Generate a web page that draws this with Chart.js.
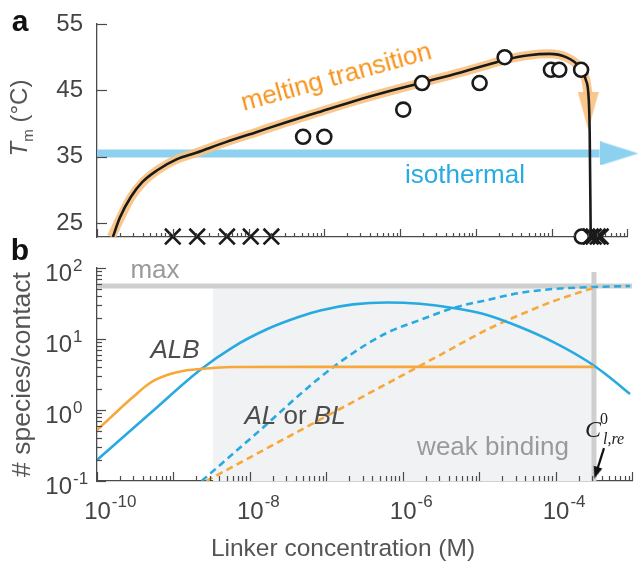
<!DOCTYPE html>
<html><head><meta charset="utf-8">
<script src="https://cdn.jsdelivr.net/npm/chart.js@4.4.0/dist/chart.umd.min.js"></script>
<style>
html,body{margin:0;padding:0;background:#fff;}
#wrap{position:relative;width:641px;height:565px;overflow:hidden;font-family:"Liberation Sans",Arial,Helvetica,sans-serif;}
canvas{position:absolute;left:0;}
.lbl{position:absolute;white-space:nowrap;line-height:1;transform:translate(-50%,-50%);}
.abs{position:absolute;white-space:nowrap;line-height:1;}
.tk{position:absolute;white-space:nowrap;line-height:1;font-size:24px;color:#444;}
.sp{position:absolute;left:100%;margin-left:1px;font-size:17px;line-height:1;}
</style></head><body>
<div id="wrap">
<canvas id="ca" width="641" height="255" style="top:0px"></canvas>
<canvas id="cb" width="641" height="310" style="top:255px"></canvas>

<div class="lbl" style="left:20px;top:21px;font-weight:bold;font-size:30px;color:#111">a</div>
<div class="lbl" style="left:20px;top:250px;font-weight:bold;font-size:30px;color:#111">b</div>
<div class="lbl" style="left:21px;top:118px;font-size:24px;color:#555;transform:translate(-50%,-50%) rotate(-90deg)"><i>T</i><sub style="font-size:15px">m</sub> (°C)</div>
<div class="lbl" style="left:336px;top:76px;font-size:26px;color:#F7941D;transform:translate(-50%,-50%) rotate(-15.5deg)">melting transition</div>
<div class="lbl" style="left:465px;top:174px;font-size:26px;color:#29ABE2">isothermal</div>
<div class="lbl" style="left:155px;top:269px;font-size:26px;color:#9a9a9a">max</div>
<div class="lbl" style="left:175px;top:349px;font-size:26px;color:#4d4d4d;font-style:italic">ALB</div>
<div class="lbl" style="left:295px;top:415px;font-size:26px;color:#4d4d4d"><i>AL</i> or <i>BL</i></div>
<div class="lbl" style="left:493px;top:446px;font-size:26px;color:#9a9a9a">weak binding</div>
<div class="lbl" style="left:343px;top:548px;font-size:24.5px;color:#555">Linker concentration (M)</div>
<div class="abs" style="left:585px;top:417px;font-family:'Liberation Serif',serif;font-style:italic;font-size:24px;color:#222">C</div>
<div class="abs" style="left:600px;top:411px;font-family:'Liberation Serif',serif;font-size:16px;color:#222">0</div>
<div class="abs" style="left:603px;top:431px;font-family:'Liberation Serif',serif;font-style:italic;font-size:16px;color:#222">l,re</div>
</div>
<script>
// ---------- Panel a data ----------
const meltX = [1.62e-10,2.00e-10,2.82e-10,3.98e-10,6.31e-10,1.12e-9,2.04e-9,5.01e-9,1.26e-8,3.16e-8,8.32e-8,2.51e-7,7.94e-7,2.00e-6,6.31e-6,1.58e-5,2.40e-5,5.01e-5,9.33e-5,1.55e-4,2.29e-4,2.82e-4,3.09e-4,3.18e-4,3.28e-4];
const meltT = [22.9,25.8,29.0,31.2,33.0,34.6,35.6,37.2,38.7,40.2,41.7,43.4,45.0,46.2,47.7,49.0,49.6,50.3,50.5,50.0,48.6,46.6,43.6,38.6,22.9];
const bandX = [1.55e-10,2.00e-10,2.82e-10,3.98e-10,6.31e-10,1.12e-9,2.04e-9,5.01e-9,1.26e-8,3.16e-8,8.32e-8,2.51e-7,7.94e-7,2.00e-6,6.31e-6,1.58e-5,2.40e-5,5.01e-5,9.33e-5,1.55e-4,2.29e-4,2.82e-4,3.04e-4];
const bandT = [22.9,25.6,28.9,31.1,33.0,34.6,35.6,37.2,38.7,40.2,41.7,43.4,45.0,46.2,47.7,49.0,49.6,50.3,50.5,50.0,48.6,46.6,44.3];
const meltHeadX = [3.04e-4], meltHeadT = [41.9];
const isoX = [1e-10, 4.3e-4], isoT = [35.5, 35.5];
const isoHeadX = [7.85e-4], isoHeadT = [35.5];
const circX = [5.25e-8,1.0e-7,1.1e-6,1.95e-6,1.12e-5,2.4e-5,9.8e-5,1.26e-4,2.45e-4,2.5e-4];
const circT = [38,38,42.1,46.1,46.1,50,48.1,48.1,48.1,22.97];
const crossX = [1e-9,2.1e-9,5.2e-9,1.07e-8,2e-8,3.28e-4,3.59e-4,4.06e-4,4.44e-4];
const crossT = [22.97,22.97,22.97,22.97,22.97,22.97,22.97,22.97,22.97];
const yTicksA = [25,35,45,55];

// ---------- Panel b data ----------
const albOrX = [1e-10,1.83e-10,2.96e-10,4.93e-10,8.24e-10,1.33e-9,2.23e-9,3.30e-9,6.03e-9,8.32e-8,3.16e-6,3.18e-4];
const albOrY = [0.52,0.955,1.52,2.40,3.11,3.54,3.78,3.91,4.03,4.05,4.05,4.05];
const albBlX = [1e-10,4.93e-10,2.23e-9,6.03e-9,1.67e-8,4.53e-8,8.32e-8,2.24e-7,6.22e-7,1.68e-6,4.55e-6,1.27e-5,3.42e-5,9.25e-5,2.58e-4,4.71e-4,9.42e-4];
const albBlY = [0.198,0.891,3.66,7.71,13.7,20.7,25.2,30.7,32.7,31.3,27.35,21.8,14.75,9.12,4.9,3.09,1.68];
const alBlX = [2.34e-9,1.36e-8,7.55e-8,2.24e-7,6.22e-7,1.68e-6,4.55e-6,1.27e-5,3.42e-5,9.25e-5,3.09e-4,9.42e-4];
const alBlY = [0.1,0.52,2.65,6.35,12.2,18.5,27.3,35.4,44.5,50.6,54,55.7];
const blOrX = [2.69e-9,1.58e-8,1.0e-7,6.31e-7,3.16e-6,1.26e-5,3.42e-5,9.25e-5,3.09e-4];
const blOrY = [0.1,0.28,0.815,2.37,6.04,13.5,21.9,33.9,52.2];
const maxX = [1e-10, 1e-3], maxY = [56, 56];
const weakX = [3.3e-9, 3.18e-4], weakY = [56, 56];
const crefX = [3.18e-4, 3.18e-4], crefY = [0.1, 88];
const arrowX = [4.3e-4, 3.4e-4], arrowY = [0.29, 0.13];
const arrowHeadX = [3.4e-4], arrowHeadY = [0.13];

// ---------- tick labels ----------
const xDecades = [-10,-9,-8,-7,-6,-5,-4,-3];
const xLabeled = [-10,-8,-6,-4];
const yDecadesB = [-1,0,1,2];

const xy = (xs, ys) => xs.map((x, i) => ({x, y: ys[i]}));
const isDecade = v => Math.abs(Math.log10(v) - Math.round(Math.log10(v))) < 1e-9;

function logTicks(decs) {
  const out = [];
  for (let i = 0; i < decs.length - 1; i++) {
    for (let m = 1; m <= 9; m++) out.push(Number((m * Math.pow(10, decs[i])).toPrecision(6)));
  }
  out.push(Math.pow(10, decs[decs.length - 1]));
  return out;
}
const xTickVals = logTicks(xDecades);
const yTickValsB = logTicks(yDecadesB);

function tri(w, h, color, dir) {
  const c = document.createElement('canvas');
  c.width = w; c.height = h;
  const g = c.getContext('2d');
  g.fillStyle = color; g.beginPath();
  if (dir === 'right') { g.moveTo(0, 0); g.lineTo(w, h / 2); g.lineTo(0, h); }
  else { g.moveTo(0, 0); g.lineTo(w, 0); g.lineTo(w / 2, h); }
  g.closePath(); g.fill();
  return c;
}

const AX = '#4a4a4a';
const ORANGE = '#F8A83B', BLUE = '#27AAE1';
const BAND_OR = 'rgba(249,193,130,0.92)', BAND_BL = '#8DD1F0';

Chart.defaults.font.family = "'Liberation Sans', Arial, Helvetica, sans-serif";
Chart.defaults.color = '#444';

const inwardTicks = {
  id: 'inwardTicks',
  afterDraw(chart, args, opts) {
    const ctx = chart.ctx, a = chart.chartArea;
    ctx.save();
    ctx.strokeStyle = AX; ctx.lineWidth = 1.2;
    for (const id of Object.keys(opts.scales || {})) {
      const s = chart.scales[id], o = opts.scales[id];
      if (!s) continue;
      for (const t of s.ticks) {
        const len = (o.all || isDecade(t.value)) ? o.major : o.minor;
        const p = Math.round(s.getPixelForValue(t.value)) + 0.5;
        ctx.beginPath();
        if (s.isHorizontal()) { ctx.moveTo(p, a.bottom); ctx.lineTo(p, a.bottom - len); }
        else { ctx.moveTo(a.left, p); ctx.lineTo(a.left + len, p); }
        ctx.stroke();
      }
    }
    ctx.restore();
  }
};

// sizes that pin each plot area to the reference layout
const sizeA = { yW: 97, xH: 18, top: 24, right: 9 };
const sizeB = { yW: 97, xH: 84, top: 13, right: 9 };

function pinArea(chart, target, sz) {
  for (let i = 0; i < 4; i++) {
    const a = chart.chartArea;
    const dl = target.left - a.left, dr = target.right - a.right, dt = target.top - a.top, db = target.bottom - a.bottom;
    if (Math.abs(dl) + Math.abs(dr) + Math.abs(dt) + Math.abs(db) < 0.5) break;
    sz.yW += dl; sz.xH -= db; sz.top += dt; sz.right -= dr;
    chart.options.layout.padding = { left: 0, right: sz.right, top: sz.top, bottom: 0 };
    chart.update('none');
  }
}

// ---------- Chart a ----------
const chartA = new Chart(document.getElementById('ca'), {
  type: 'line',
  data: { datasets: [
    { data: xy(crossX, crossT), showLine: false, pointStyle: 'crossRot', pointRadius: 11,
      pointBorderColor: '#1a1a1a', pointBorderWidth: 2.6, borderColor: '#1a1a1a', clip: false, order: 0 },
    { data: xy(circX, circT), showLine: false, pointStyle: 'circle', pointRadius: 7,
      pointBackgroundColor: '#fff', pointBorderColor: '#1a1a1a', pointBorderWidth: 2.6, clip: false, order: 1 },
    { data: xy(meltX, meltT), borderColor: '#1a1a1a', borderWidth: 2.6, pointRadius: 0,
      cubicInterpolationMode: 'monotone', order: 2 },
    { data: xy(meltHeadX, meltHeadT), showLine: false, pointStyle: tri(21, 38, BAND_OR, 'down'),
      pointRadius: 10, clip: false, order: 3 },
    { data: xy(bandX, bandT), borderColor: BAND_OR, borderWidth: 9, pointRadius: 0,
      cubicInterpolationMode: 'monotone', order: 4 },
    { data: xy(isoHeadX, isoHeadT), showLine: false, pointStyle: tri(38, 24, BAND_BL, 'right'),
      pointRadius: 10, clip: false, order: 5 },
    { data: xy(isoX, isoT), borderColor: BAND_BL, borderWidth: 8, pointRadius: 0, tension: 0, clip: false, order: 6 }
  ]},
  options: {
    responsive: false, animation: false, events: [],
    layout: { padding: { left: 0, right: sizeA.right, top: sizeA.top, bottom: 0 } },
    scales: {
      x: { type: 'logarithmic', min: 1e-10, max: 1e-3,
        afterBuildTicks: s => { s.ticks = xTickVals.map(v => ({ value: v })); },
        afterFit: s => { s.height = sizeA.xH; },
        ticks: { display: false, autoSkip: false },
        grid: { display: false, drawTicks: false },
        border: { display: true, color: AX, width: 1.3 } },
      y: { type: 'linear', min: 22.9, max: 55,
        afterBuildTicks: s => { s.ticks = yTicksA.map(v => ({ value: v })); },
        afterFit: s => { s.width = sizeA.yW; },
        ticks: { font: { size: 24 }, color: '#444', padding: 0, autoSkip: false },
        grid: { display: false, drawTicks: true, tickLength: 14 },
        border: { display: true, color: AX, width: 1.3 } }
    },
    plugins: { legend: { display: false }, tooltip: { enabled: false },
      inwardTicks: { scales: { x: { major: 8, minor: 4 }, y: { major: 10, minor: 10, all: true } } } }
  },
  plugins: [inwardTicks]
});
pinArea(chartA, { left: 97, right: 632, top: 24, bottom: 237 }, sizeA);

// ---------- Chart b ----------
const chartB = new Chart(document.getElementById('cb'), {
  type: 'line',
  data: { datasets: [
    { data: xy(arrowHeadX, arrowHeadY), showLine: false, pointStyle: tri(9, 12, '#111', 'down'),
      pointRadius: 6, pointRotation: 18, clip: false, order: 0 },
    { data: xy(arrowX, arrowY), borderColor: '#111', borderWidth: 2.2, pointRadius: 0, tension: 0, clip: false, order: 1 },
    { data: xy(albOrX, albOrY), borderColor: ORANGE, borderWidth: 2.6, pointRadius: 0, cubicInterpolationMode: 'monotone', order: 2 },
    { data: xy(albBlX, albBlY), borderColor: BLUE, borderWidth: 2.6, pointRadius: 0, cubicInterpolationMode: 'monotone', order: 3 },
    { data: xy(blOrX, blOrY), borderColor: ORANGE, borderWidth: 2.6, borderDash: [7, 4.5], pointRadius: 0, cubicInterpolationMode: 'monotone', order: 4 },
    { data: xy(alBlX, alBlY), borderColor: BLUE, borderWidth: 2.6, borderDash: [7, 4.5], pointRadius: 0, cubicInterpolationMode: 'monotone', order: 5 },
    { data: xy(crefX, crefY), borderColor: '#CFCFCF', borderWidth: 5, pointRadius: 0, tension: 0, order: 6 },
    { data: xy(maxX, maxY), borderColor: '#CFCFCF', borderWidth: 5, pointRadius: 0, tension: 0, order: 7 },
    { data: xy(weakX, weakY), borderWidth: 0, borderColor: 'rgba(0,0,0,0)', backgroundColor: '#F1F2F4',
      fill: 'start', pointRadius: 0, tension: 0, order: 8 }
  ]},
  options: {
    responsive: false, animation: false, events: [],
    layout: { padding: { left: 0, right: sizeB.right, top: sizeB.top, bottom: 0 } },
    scales: {
      x: { type: 'logarithmic', min: 1e-10, max: 1e-3,
        afterBuildTicks: s => { s.ticks = xTickVals.map(v => ({ value: v })); },
        afterFit: s => { s.height = sizeB.xH; },
        ticks: { display: false, autoSkip: false },
        grid: { display: false, drawTicks: false },
        border: { display: true, color: AX, width: 1.3 } },
      y: { type: 'logarithmic', min: 0.1, max: 100,
        afterBuildTicks: s => { s.ticks = yTickValsB.map(v => ({ value: v })); },
        afterFit: s => { s.width = sizeB.yW; },
        ticks: { display: false, autoSkip: false },
        title: { display: true, text: '# species/contact', font: { size: 26.5 }, color: '#555', padding: { top: 7, bottom: 0 } },
        grid: { display: false, drawTicks: false },
        border: { display: true, color: AX, width: 1.3 } }
    },
    plugins: { legend: { display: false }, tooltip: { enabled: false },
      inwardTicks: { scales: { x: { major: 9, minor: 5 }, y: { major: 9, minor: 5 } } } }
  },
  plugins: [inwardTicks]
});
pinArea(chartB, { left: 97, right: 632, top: 13, bottom: 226 }, sizeB);

// ---------- power-of-ten tick labels placed from the chart's own scales ----------
const wrap = document.getElementById('wrap');
function powLabel(x, y, exp, alignRight, supTop) {
  const d = document.createElement('div');
  d.className = 'tk';
  d.style.left = x + 'px'; d.style.top = y + 'px';
  d.style.transform = alignRight ? 'translate(-100%,-50%)' : 'translate(-50%,-50%)';
  d.textContent = '10';
  const s = document.createElement('span');
  s.className = 'sp'; s.style.top = supTop + 'px'; s.textContent = String(exp);
  d.appendChild(s);
  wrap.appendChild(d);
}
const cbTop = 255;
xLabeled.forEach(e => powLabel(chartB.scales.x.getPixelForValue(Math.pow(10, e)) + 0.5, 510.5, e, false, -6));
yDecadesB.forEach(e => powLabel(72, cbTop + chartB.scales.y.getPixelForValue(Math.pow(10, e)) + 5, e, true, -4.5));
</script>
</body></html>
